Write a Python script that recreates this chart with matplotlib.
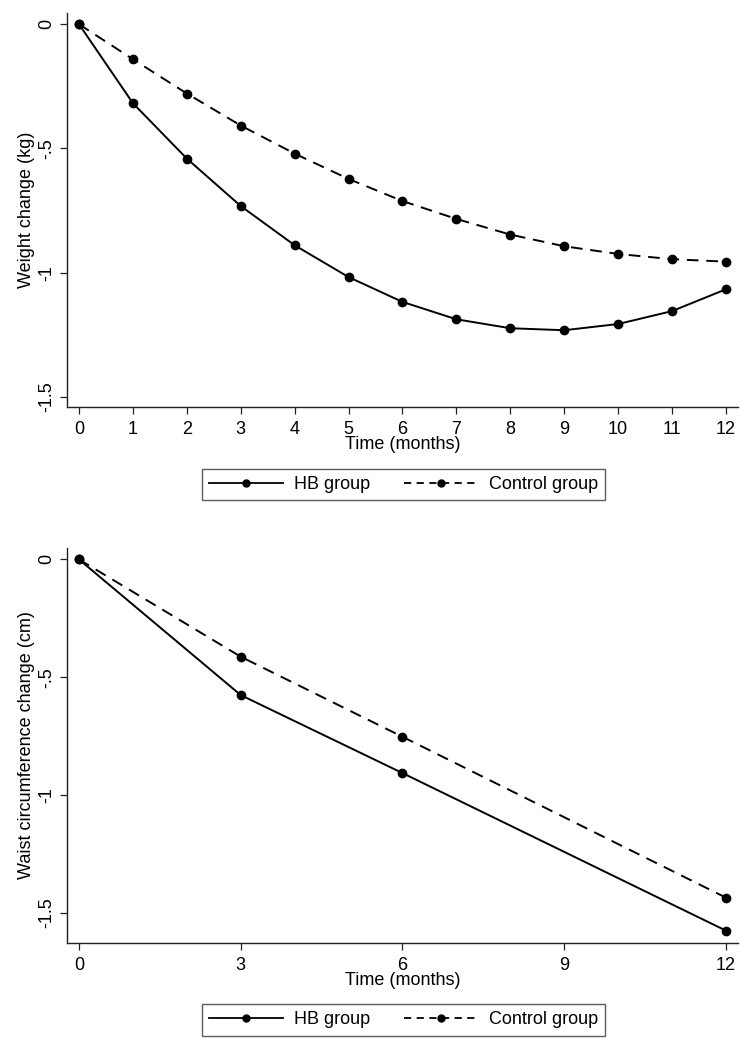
import matplotlib.pyplot as plt
from matplotlib.lines import Line2D

plt.rcParams['font.family'] = ['Liberation Sans', 'DejaVu Sans']

# weight change, monthly
months_w = [0, 1, 2, 3, 4, 5, 6, 7, 8, 9, 10, 11, 12]
hb_weight = [0, -0.318, -0.541, -0.732, -0.890, -1.018, -1.118, -1.188, -1.224, -1.232, -1.207, -1.155, -1.067]
ctrl_weight = [0, -0.141, -0.279, -0.408, -0.521, -0.623, -0.712, -0.784, -0.847, -0.894, -0.925, -0.946, -0.956]

# waist change, quarterly
months_c = [0, 3, 6, 12]
hb_waist = [0, -0.576, -0.907, -1.576]
ctrl_waist = [0, -0.413, -0.753, -1.436]

labels = ["HB group", "Control group"]
fs = 13
dash = (6, 4)

fig = plt.figure(figsize=(7.56, 10.5), dpi=100)
ax1 = fig.add_axes([0.089, 0.6124, 0.887, 0.3752])
ax2 = fig.add_axes([0.089, 0.1022, 0.887, 0.3758])


def style_axis(ax, xticks, ylim, ylabel):
    ax.set_xlim(-0.217, 12.22)
    ax.set_ylim(*ylim)
    ax.set_xticks(xticks)
    ax.set_xticklabels([str(t) for t in xticks], fontsize=fs)
    ax.set_yticks([0, -0.5, -1, -1.5])
    ax.set_yticklabels(["0", "-.5", "-1", "-1.5"], fontsize=fs, rotation=90, va='center')
    ax.spines['top'].set_visible(False)
    ax.spines['right'].set_visible(False)
    for s in ['left', 'bottom']:
        ax.spines[s].set_linewidth(1.0)
        ax.spines[s].set_color('#222222')
    ax.tick_params(direction='out', length=5, width=0.9, color='#222222', pad=4)
    ax.tick_params(axis='x', pad=5)
    ax.set_xlabel("Time (months)", fontsize=fs, labelpad=-1)
    ax.set_ylabel(ylabel, fontsize=fs, labelpad=2)


# top panel
ax1.plot(months_w, hb_weight, color='black', lw=1.4, marker='o', ms=6)
ax1.plot(months_w, ctrl_weight, color='black', lw=1.4, marker='o', ms=6, dashes=dash)
style_axis(ax1, months_w, (-1.541, 0.045), "Weight change (kg)")

# bottom panel
ax2.plot(months_c, hb_waist, color='black', lw=1.4, marker='o', ms=6)
ax2.plot(months_c, ctrl_waist, color='black', lw=1.4, marker='o', ms=6, dashes=dash)
style_axis(ax2, [0, 3, 6, 9, 12], (-1.627, 0.048), "Waist circumference change (cm)")

handles = [Line2D([], [], color='black', lw=1.3, marker='o', ms=5),
           Line2D([], [], color='black', lw=1.3, marker='o', ms=5, dashes=(4, 3))]

for yc in [0.5384, 0.0286]:
    leg = fig.legend(handles, labels, loc='center', bbox_to_anchor=(0.5336, yc), ncol=2,
                     fontsize=fs, frameon=True, fancybox=False, edgecolor='#333333',
                     handlelength=4.1, columnspacing=1.9, handletextpad=0.6,
                     borderpad=0.4, borderaxespad=0)
    leg.get_frame().set_linewidth(1.0)

fig.savefig("out.png", dpi=100, facecolor='white')
